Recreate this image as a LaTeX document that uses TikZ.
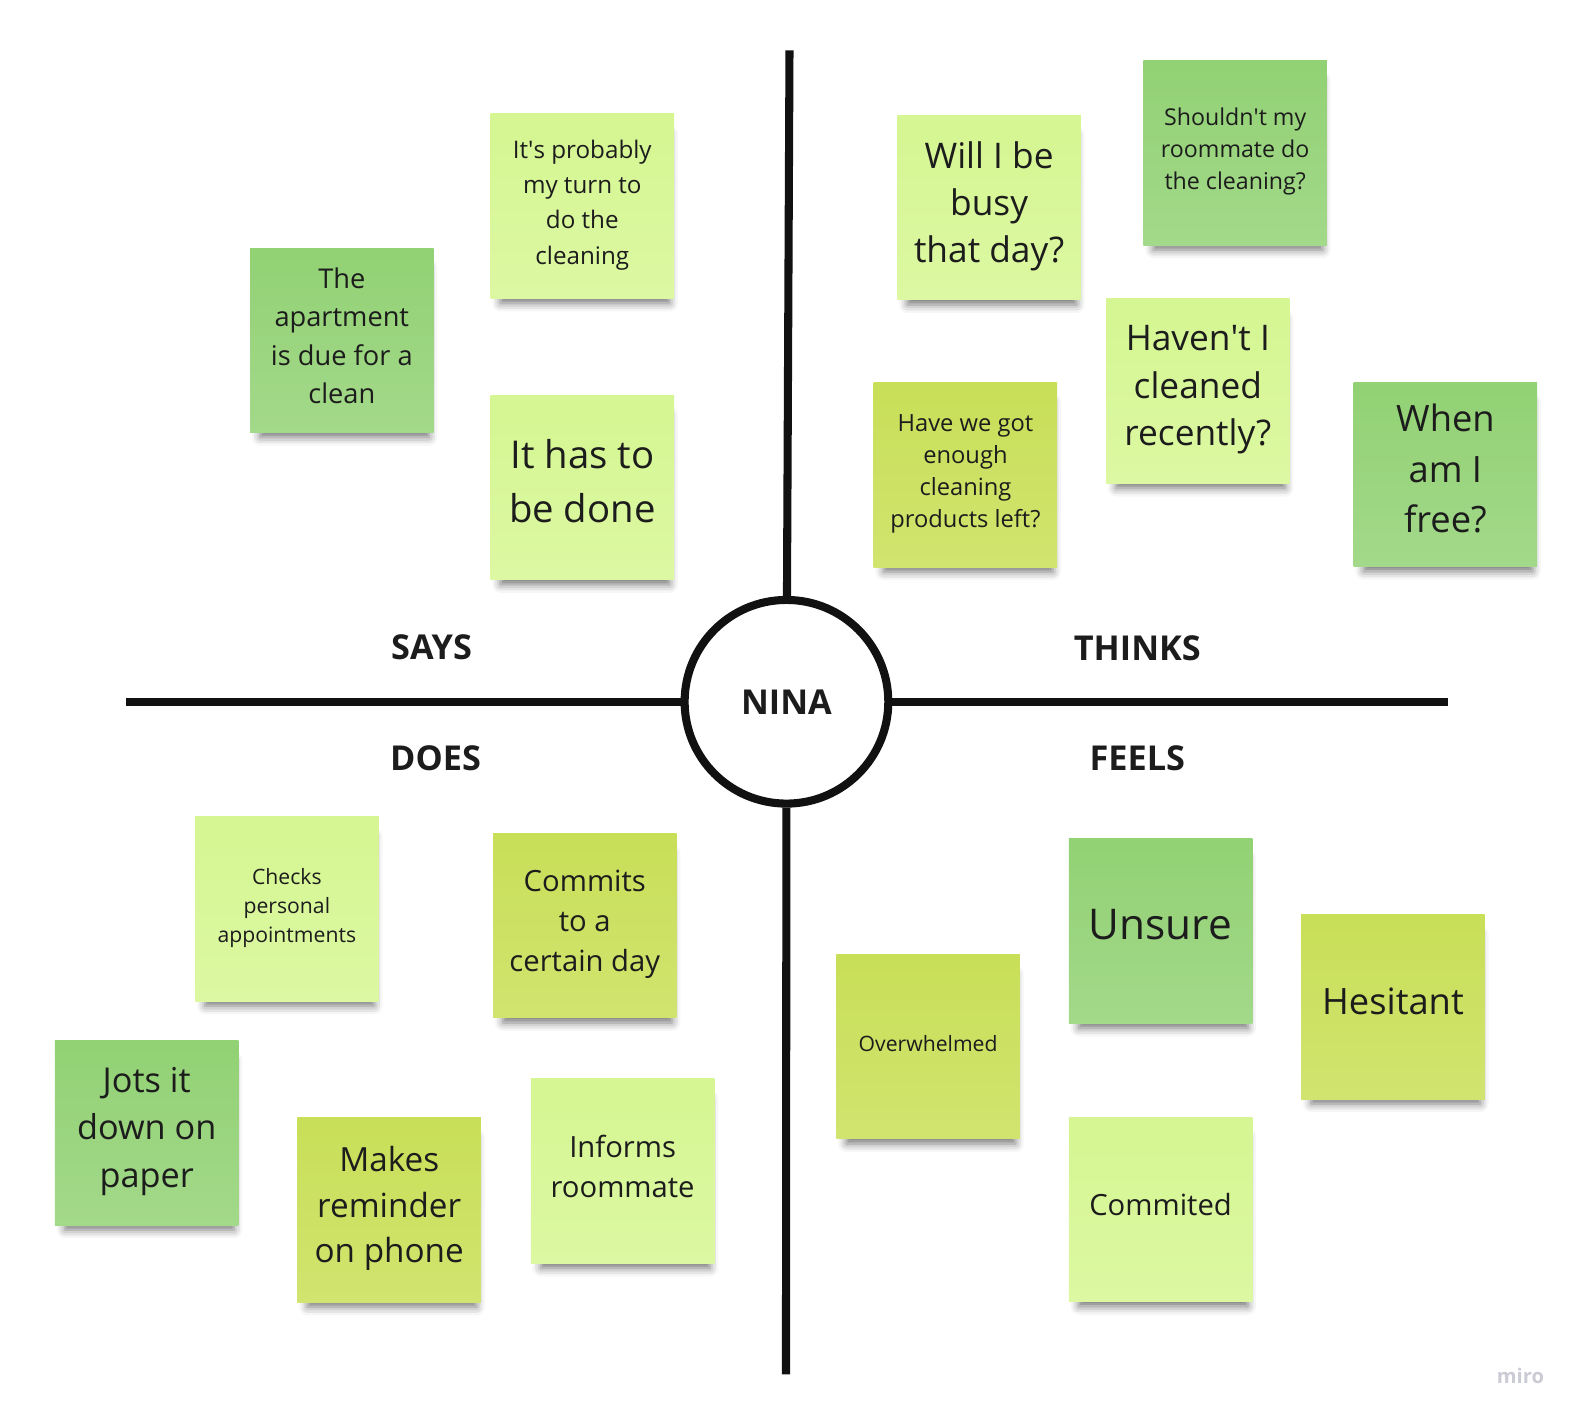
\documentclass[tikz,border=0pt]{standalone}
\usepackage{fontspec}
\setmainfont{Open Sans}
\usetikzlibrary{shadows.blur}

\definecolor{inkline}{HTML}{111111}
\definecolor{notetext}{HTML}{1C1C1C}
\definecolor{darktop}{HTML}{92D174}
\definecolor{darkbot}{HTML}{A3D98A}
\definecolor{limetop}{HTML}{C8DF58}
\definecolor{limebot}{HTML}{D1E46F}
\definecolor{lighttop}{HTML}{D5F692}
\definecolor{lightbot}{HTML}{DCF8A2}
\definecolor{logogray}{HTML}{CBCBD6}

\tikzset{
  note/.style={rectangle, minimum width=91pt, minimum height=91.5pt,
    inner sep=0pt, align=center, text=notetext,
    execute at end node={\vrule width 0pt height 0pt depth 0.24\baselineskip},
    blur shadow={shadow xshift=1.5pt, shadow yshift=-6.5pt, shadow scale=0.92,
      shadow blur radius=4.5pt, shadow opacity=55}},
  notedark/.style={note, top color=darktop, bottom color=darkbot},
  notelime/.style={note, top color=limetop, bottom color=limebot},
  notelight/.style={note, top color=lighttop, bottom color=lightbot},
  quadlabel/.style={font=\fontsize{17}{20}\selectfont\bfseries, text=notetext},
}

\begin{document}
\begin{tikzpicture}[x=0.5pt, y=-0.5pt]
        \useasboundingbox (0, 0) rectangle (1568, 1411);

        % Draw the person in the middle and the two axes
        \node[circle, draw=inkline, line width=4pt, fill=white, minimum size=101pt,
          font=\fontsize{17}{20}\selectfont\bfseries, text=notetext] (nina) at (780, 696) {NINA};
        \coordinate (axtop) at (783, 50);
        \coordinate (axbottom) at (779.5, 1363);
        \coordinate (axleft) at (125, 696);
        \coordinate (axright) at (1436.5, 696);
        \draw[inkline, line width=4pt] (axtop) -- (nina);
        \draw[inkline, line width=4pt] (nina) -- (axbottom);
        \draw[inkline, line width=4pt] (axleft) -- (nina);
        \draw[inkline, line width=4pt] (nina) -- (axright);

        % Draw the quadrant labels
        \node[quadlabel] (says) at (428, 642) {SAYS};
        \node[quadlabel] (thinks) at (1128, 643) {THINKS};
        \node[quadlabel] (does) at (432, 752) {DOES};
        \node[quadlabel] (feels) at (1128, 752) {FEELS};

        % Draw the notes of the says quadrant
        \node[notelight, font=\fontsize{12}{17.5}\selectfont] (turn) at (577.5, 204.5)
          {It\textquotesingle s probably\\my turn to\\do the\\cleaning};
        \node[notedark, font=\fontsize{13.5}{19}\selectfont] (apartment) at (339, 337.5)
          {The\\apartment\\is due for a\\clean};
        \node[notelight, font=\fontsize{19}{27}\selectfont] (done) at (577.5, 483.5)
          {It has to\\be done};

        % Draw the notes of the thinks quadrant
        \node[notelight, font=\fontsize{17.5}{23.5}\selectfont] (busy) at (981, 206)
          {Will I be\\busy\\that day?};
        \node[notedark, font=\fontsize{11.5}{16}\selectfont] (roommate) at (1225, 151.5)
          {Shouldn\textquotesingle t my\\roommate do\\the cleaning?};
        \node[notelight, font=\fontsize{17.5}{23.5}\selectfont] (recently) at (1188, 388)
          {Haven\textquotesingle t I\\cleaned\\recently?};
        \node[notelime, font=\fontsize{11.75}{16}\selectfont] (products) at (957.5, 471)
          {Have we got\\enough\\cleaning\\products left?};
        \node[notedark, font=\fontsize{18}{25}\selectfont] (free) at (1433.5, 470.5)
          {When\\am I\\free?};

        % Draw the notes of the does quadrant
        \node[notelight, font=\fontsize{10.5}{14.5}\selectfont] (checks) at (284.5, 901.5)
          {Checks\\personal\\appointments};
        \node[notelime, font=\fontsize{14.5}{20}\selectfont] (commits) at (580, 918)
          {Commits\\to a\\certain day};
        \node[notedark, font=\fontsize{17}{23.5}\selectfont] (jots) at (145.5, 1123.5)
          {Jots it\\down on\\paper};
        \node[notelime, font=\fontsize{16.5}{22.5}\selectfont] (reminder) at (386, 1200)
          {Makes\\reminder\\on phone};
        \node[notelight, font=\fontsize{14.5}{20}\selectfont] (informs) at (617.5, 1161.5)
          {Informs\\roommate};

        % Draw the notes of the feels quadrant
        \node[notelime, font=\fontsize{10.5}{14.5}\selectfont] (overwhelmed) at (920.5, 1038)
          {Overwhelmed};
        \node[notedark, font=\fontsize{21}{28}\selectfont] (unsure) at (1151, 923.5)
          {Unsure};
        \node[notelime, font=\fontsize{18}{24}\selectfont] (hesitant) at (1381.5, 998.5)
          {Hesitant};
        \node[notelight, font=\fontsize{14.5}{20}\selectfont] (commited) at (1151, 1199.5)
          {Commited};

        % Draw the board logo
        \node[font=\fontsize{10}{12}\selectfont\bfseries, text=logogray] (logo) at (1508, 1365) {miro};

\end{tikzpicture}
\end{document}
